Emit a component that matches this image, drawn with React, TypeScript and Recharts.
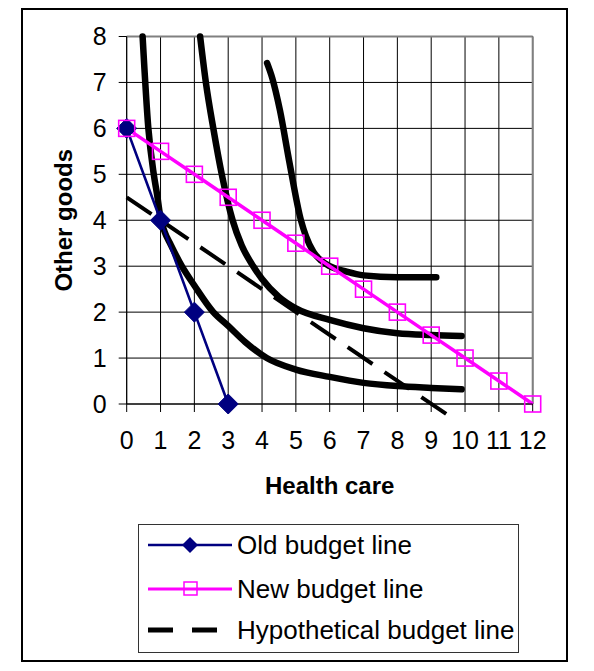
import React from 'react';
import { LineChart, Line, XAxis, YAxis, CartesianGrid, ReferenceLine } from 'recharts';

const xTicks = [0, 1, 2, 3, 4, 5, 6, 7, 8, 9, 10, 11, 12];
const yTicks = [0, 1, 2, 3, 4, 5, 6, 7, 8];

const oldBudgetX = [0, 1, 2, 3];
const oldBudgetY = [6, 4, 2, 0];

const newBudgetX = [0, 1, 2, 3, 4, 5, 6, 7, 8, 9, 10, 11, 12];
const newBudgetY = [6, 5.5, 5, 4.5, 4, 3.5, 3, 2.5, 2, 1.5, 1, 0.5, 0];

const hypoX = [0, 9.45];
const hypoY = [4.5, -0.22];

const curve1X = [0.47, 0.64, 0.8, 0.9, 1.0, 1.12, 1.3, 1.63, 2.0, 2.56, 3.0, 3.5, 4.14, 5.0, 6.0, 7.0, 8.0, 9.0, 9.9];
const curve1Y = [8.0, 6.0, 5.0, 4.55, 4.05, 3.75, 3.47, 3.0, 2.58, 2.0, 1.7, 1.35, 1.0, 0.75, 0.59, 0.46, 0.39, 0.35, 0.32];

const curve2X = [2.17, 2.34, 2.56, 2.81, 3.13, 3.4, 3.74, 4.0, 4.5, 5.0, 6.0, 7.0, 8.0, 9.0, 9.9];
const curve2Y = [8.0, 7.0, 6.0, 5.0, 4.0, 3.45, 3.0, 2.72, 2.33, 2.08, 1.83, 1.65, 1.54, 1.5, 1.48];

const curve3X = [4.15, 4.3, 4.53, 4.8, 5.15, 5.3, 5.52, 5.75, 6.0, 6.5, 7.0, 8.0, 9.15];
const curve3Y = [7.42, 7.1, 6.39, 5.3, 4.0, 3.65, 3.31, 3.12, 3.0, 2.88, 2.8, 2.76, 2.76];

const seriesNames = ['Old budget line', 'New budget line', 'Hypothetical budget line'];
const xTitle = 'Health care';
const yTitle = 'Other goods';

const zip = (xs: number[], ys: number[]) => xs.map((x, i) => ({ x, y: ys[i] }));

const FONT = '"Liberation Sans", Arial, Helvetica, sans-serif';
const NAVY = '#000080';
const MAGENTA = '#FF00FF';

const Diamond = (props: any) => {
  const { cx, cy } = props;
  if (cx == null || cy == null) return null;
  const r = 10;
  return (
    <polygon
      points={`${cx},${cy - r} ${cx + r},${cy} ${cx},${cy + r} ${cx - r},${cy}`}
      fill={NAVY}
      stroke={NAVY}
    />
  );
};

const Square = (props: any) => {
  const { cx, cy } = props;
  if (cx == null || cy == null) return null;
  const h = 8;
  return <rect x={cx - h} y={cy - h} width={2 * h} height={2 * h} fill="none" stroke={MAGENTA} strokeWidth={1.6} />;
};

const LegendBox = () => {
  const rowH = [21, 65, 106];
  return (
    <div
      style={{
        position: 'absolute',
        left: 115,
        top: 514,
        width: 381,
        height: 129,
        border: '1px solid #333',
        boxSizing: 'border-box',
        background: '#fff',
      }}
    >
      <svg width={381} height={129} style={{ position: 'absolute', left: 0, top: 0 }}>
        <line x1={9} x2={93} y1={rowH[0] - 1} y2={rowH[0] - 1} stroke={NAVY} strokeWidth={2.5} />
        <polygon
          points={`51,${rowH[0] - 9} 59,${rowH[0] - 1} 51,${rowH[0] + 7} 43,${rowH[0] - 1}`}
          fill={NAVY}
        />
        <line x1={9} x2={93} y1={rowH[1] - 1} y2={rowH[1] - 1} stroke={MAGENTA} strokeWidth={3} />
        <rect x={45} y={rowH[1] - 8} width={13} height={13} fill="none" stroke={MAGENTA} strokeWidth={1.5} />
        <line
          x1={9}
          x2={93}
          y1={rowH[2] - 1}
          y2={rowH[2] - 1}
          stroke="#000"
          strokeWidth={5}
          strokeDasharray="25 19"
        />
        {seriesNames.map((n, i) => (
          <text
            key={n}
            x={98}
            y={rowH[i] - 1}
            dominantBaseline="central"
            fontFamily={FONT}
            fontSize={26}
            fill="#000"
          >
            {n}
          </text>
        ))}
      </svg>
    </div>
  );
};

export default function App() {
  return (
    <div
      style={{
        position: 'relative',
        marginLeft: 13,
        width: 547,
        height: 654,
        border: '2px solid #000',
        boxSizing: 'border-box',
        background: '#fff',
        fontFamily: FONT,
      }}
    >
      <div style={{ position: 'absolute', left: 0, top: 0 }}>
        <LineChart width={543} height={500} margin={{ top: 26.5, right: 33.3, bottom: 0, left: 0 }}>
          <CartesianGrid stroke="#000" strokeWidth={1} />
          <XAxis
            type="number"
            dataKey="x"
            domain={[0, 12]}
            ticks={xTicks}
            interval={0}
            height={106}
            tickSize={8}
            tickMargin={19}
            axisLine={{ stroke: '#000' }}
            tickLine={{ stroke: '#000' }}
            tick={{ fill: '#000', fontSize: 25, fontFamily: FONT }}
            label={{
              value: xTitle,
              position: 'insideTop',
              offset: 73,
              style: { fontSize: 24, fontWeight: 'bold', fill: '#000', fontFamily: FONT },
            }}
          />
          <YAxis
            type="number"
            dataKey="y"
            domain={[0, 8]}
            ticks={yTicks}
            interval={0}
            width={103.7}
            tickSize={8}
            tickMargin={12}
            axisLine={{ stroke: '#000' }}
            tickLine={{ stroke: '#000' }}
            tick={{ fill: '#000', fontSize: 25, fontFamily: FONT }}
            label={{
              value: yTitle,
              angle: -90,
              position: 'insideLeft',
              offset: 40,
              style: { textAnchor: 'middle', fontSize: 24, fontWeight: 'bold', fill: '#000', fontFamily: FONT },
            }}
          />
          <ReferenceLine y={8} stroke="#808080" strokeWidth={2} />
          <ReferenceLine x={12} stroke="#808080" strokeWidth={2} />
          <Line
            data={zip(curve1X, curve1Y)}
            dataKey="y"
            type="monotone"
            stroke="#000"
            strokeWidth={6.5}
            strokeLinecap="round"
            strokeLinejoin="round"
            dot={false}
            activeDot={false}
            isAnimationActive={false}
            legendType="none"
          />
          <Line
            data={zip(curve2X, curve2Y)}
            dataKey="y"
            type="monotone"
            stroke="#000"
            strokeWidth={6.5}
            strokeLinecap="round"
            strokeLinejoin="round"
            dot={false}
            activeDot={false}
            isAnimationActive={false}
            legendType="none"
          />
          <Line
            data={zip(curve3X, curve3Y)}
            dataKey="y"
            type="monotone"
            stroke="#000"
            strokeWidth={6.5}
            strokeLinecap="round"
            strokeLinejoin="round"
            dot={false}
            activeDot={false}
            isAnimationActive={false}
            legendType="none"
          />
          <ReferenceLine
            segment={zip(hypoX, hypoY)}
            ifOverflow="visible"
            stroke="#000"
            strokeWidth={4}
            strokeDasharray="30 14.5"
          />
          <Line
            name={seriesNames[0]}
            data={zip(oldBudgetX, oldBudgetY)}
            dataKey="y"
            type="linear"
            stroke={NAVY}
            strokeWidth={2.6}
            dot={<Diamond />}
            activeDot={false}
            isAnimationActive={false}
          />
          <Line
            name={seriesNames[1]}
            data={zip(newBudgetX, newBudgetY)}
            dataKey="y"
            type="linear"
            stroke={MAGENTA}
            strokeWidth={3.5}
            dot={<Square />}
            activeDot={false}
            isAnimationActive={false}
          />
        </LineChart>
      </div>
      <LegendBox />
    </div>
  );
}
